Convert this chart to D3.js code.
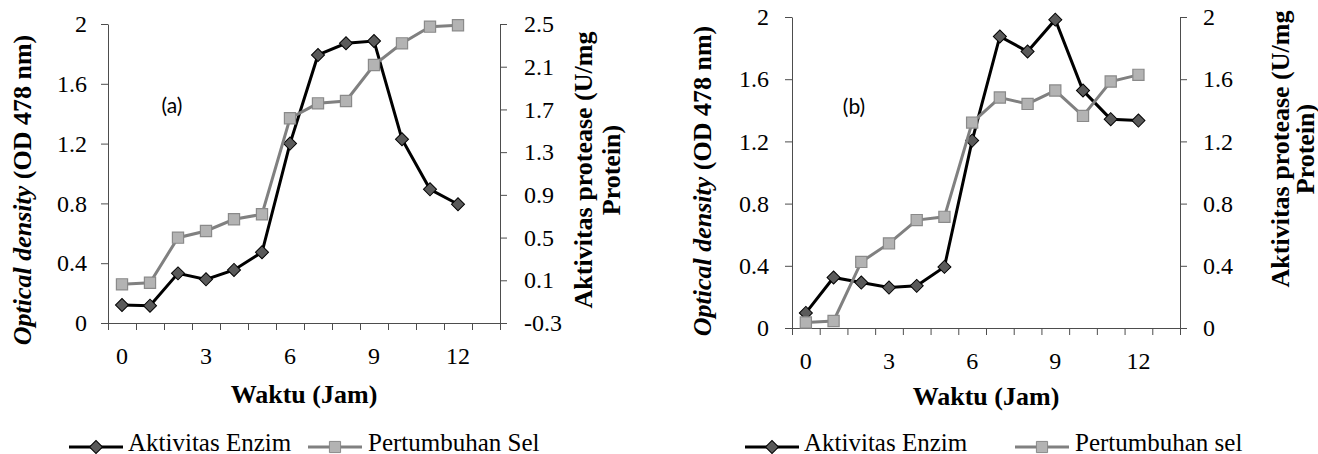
<!DOCTYPE html>
<html lang="id">
<head>
  <meta charset="UTF-8" />
  <script src="https://d3js.org/d3.v7.min.js"></script>
  <title>Aktivitas Enzim dan Pertumbuhan Sel</title>
  <style>
    body { margin: 0; background: #fff; }
  </style>
</head>
<body>
<script type="text/javascript">
	// kategori sumbu x (14 slot, slot terakhir kosong)
	var slots = [0, 1, 2, 3, 4, 5, 6, 7, 8, 9, 10, 11, 12, 13];
	var hours = [0, 1, 2, 3, 4, 5, 6, 7, 8, 9, 10, 11, 12];
	var xLabels = [0, 3, 6, 9, 12];

	// panel (a)
	var enzimA = [0.12, 0.116, 0.332, 0.292, 0.355, 0.473, 1.2, 1.793, 1.871, 1.886, 1.229, 0.894, 0.794];
	var selA = [0.062, 0.077, 0.499, 0.562, 0.671, 0.718, 1.617, 1.757, 1.779, 2.116, 2.319, 2.475, 2.488];
	var leftTicksA = [0, 0.4, 0.8, 1.2, 1.6, 2];
	var rightTicksA = [-0.3, 0.1, 0.5, 0.9, 1.3, 1.7, 2.1, 2.5];

	// panel (b)
	var enzimB = [0.097, 0.325, 0.292, 0.26, 0.271, 0.393, 1.205, 1.875, 1.778, 1.983, 1.527, 1.343, 1.334];
	var selB = [0.035, 0.045, 0.425, 0.544, 0.694, 0.715, 1.321, 1.482, 1.441, 1.527, 1.364, 1.585, 1.628];
	var leftTicksB = [0, 0.4, 0.8, 1.2, 1.6, 2];
	var rightTicksB = [0, 0.4, 0.8, 1.2, 1.6, 2];

	var width = 1318; var height = 454;
	var serif = "Liberation Serif";
	var svg = d3.select("body").append("svg").attr("width", width).attr("height", height)
		.attr("font-family", serif);
	svg.append("rect").attr("width", width).attr("height", height).attr("fill", "#fff");

	var fmt = function(d){ return String(+d.toFixed(1)); };
	var axisColor = "#4d4d4d";

	function panel(p)
	{
		var g = svg.append("g");
		var xBand = d3.scaleBand().domain(slots).range([p.x0, p.x1]);
		var xEdge = d3.scaleLinear().domain([0, slots.length]).range([p.x0, p.x1]);
		var yL = d3.scaleLinear().domain([p.leftTicks[0], p.leftTicks[p.leftTicks.length - 1]]).range([p.y1, p.y0]);
		var yR = d3.scaleLinear().domain([p.rightTicks[0], p.rightTicks[p.rightTicks.length - 1]]).range([p.y1, p.y0]);

		// sumbu x: garis + tick di batas kategori
		var ax = g.append("g").attr("transform", "translate(0," + p.y1 + ")")
			.call(d3.axisBottom(xEdge).tickValues(d3.range(slots.length + 1)).tickFormat("").tickSize(7).tickSizeOuter(0));
		ax.selectAll("line, path").attr("stroke", axisColor);
		var axl = g.append("g").attr("transform", "translate(0," + p.y1 + ")")
			.call(d3.axisBottom(xBand).tickValues(xLabels).tickSize(0).tickPadding(24));
		axl.select(".domain").remove();

		var al = g.append("g").attr("transform", "translate(" + p.x0 + ",0)")
			.call(d3.axisLeft(yL).tickValues(p.leftTicks).tickFormat(fmt).tickSize(7).tickSizeOuter(0).tickPadding(p.padL));
		al.selectAll("line, path").attr("stroke", axisColor);

		var ar = g.append("g").attr("transform", "translate(" + p.x1 + ",0)")
			.call(d3.axisRight(yR).tickValues(p.rightTicks).tickFormat(fmt).tickSize(7).tickSizeOuter(0).tickPadding(p.padR));
		ar.selectAll("line, path").attr("stroke", axisColor);

		[ax, axl, al, ar].forEach(function(a){
			a.attr("font-family", serif).attr("font-size", 24);
			a.selectAll("text").attr("font-family", serif).attr("font-size", 24).attr("fill", "#000");
		});

		var cx = function(d, i){ return xBand(hours[i]) + xBand.bandwidth() / 2; };

		// Aktivitas Enzim (hitam, belah ketupat)
		var lineE = d3.line().x(cx).y(function(d){ return yL(d); });
		g.append("path").datum(p.enzim).attr("d", lineE).attr("fill", "none").attr("stroke", "#000").attr("stroke-width", 3);
		g.selectAll(".dia").data(p.enzim).enter().append("path")
			.attr("d", d3.symbol().type(d3.symbolSquare).size(85))
			.attr("transform", function(d, i){ return "translate(" + cx(d, i) + "," + yL(d) + ") rotate(45)"; })
			.attr("fill", "#5a5a5a").attr("stroke", "#000").attr("stroke-width", 1);

		// Pertumbuhan Sel (abu-abu, kotak)
		var lineS = d3.line().x(cx).y(function(d){ return yR(d); });
		g.append("path").datum(p.sel).attr("d", lineS).attr("fill", "none").attr("stroke", "#808080").attr("stroke-width", 3);
		g.selectAll(".sq").data(p.sel).enter().append("path")
			.attr("d", d3.symbol().type(d3.symbolSquare).size(125))
			.attr("transform", function(d, i){ return "translate(" + cx(d, i) + "," + yR(d) + ")"; })
			.attr("fill", "#b3b3b3").attr("stroke", "#8a8a8a").attr("stroke-width", 1.2);

		// label panel
		g.append("text").attr("x", p.tag[0]).attr("y", p.tag[1]).attr("text-anchor", "middle")
			.attr("font-family", "Lato").attr("font-size", 21).text(p.tagText);

		// judul sumbu y kiri
		var tl = g.append("text").attr("transform", "translate(" + p.ltitle[0] + "," + p.ltitle[1] + ") rotate(-90)")
			.attr("text-anchor", "middle").attr("dy", "0.35em").attr("font-family", serif)
			.attr("font-size", 26).attr("font-weight", "bold");
		tl.append("tspan").attr("font-style", "italic").text("Optical density");
		tl.append("tspan").text(" (OD 478 nm)");

		// judul sumbu y kanan (dua baris)
		var tr = g.append("g").attr("font-family", serif).attr("font-size", 26).attr("font-weight", "bold");
		tr.append("text").attr("transform", "translate(" + p.rtitle[0] + "," + p.rtitle[2] + ") rotate(-90)")
			.attr("text-anchor", "middle").attr("dy", "0.35em").text("Aktivitas protease (U/mg");
		tr.append("text").attr("transform", "translate(" + p.rtitle[1] + "," + p.rtitle[2] + ") rotate(-90)")
			.attr("text-anchor", "middle").attr("dy", "0.35em").text("Protein)");

		// judul sumbu x
		g.append("text").attr("x", (p.x0 + p.x1) / 2).attr("y", p.xtitleY).attr("text-anchor", "middle")
			.attr("font-family", serif).attr("font-size", 26).attr("font-weight", "bold").text("Waktu (Jam)");

		// legenda
		var ly = 447;
		var le = p.legend;
		g.append("line").attr("x1", le[0]).attr("x2", le[0] + 54).attr("y1", ly).attr("y2", ly).attr("stroke", "#000").attr("stroke-width", 3);
		g.append("path").attr("d", d3.symbol().type(d3.symbolSquare).size(85))
			.attr("transform", "translate(" + (le[0] + 27) + "," + ly + ") rotate(45)")
			.attr("fill", "#5a5a5a").attr("stroke", "#000");
		g.append("text").attr("x", le[0] + 59).attr("y", 451).attr("font-family", serif).attr("font-size", 25).text("Aktivitas Enzim");
		g.append("line").attr("x1", le[1]).attr("x2", le[1] + 54).attr("y1", ly).attr("y2", ly).attr("stroke", "#808080").attr("stroke-width", 3);
		g.append("path").attr("d", d3.symbol().type(d3.symbolSquare).size(125))
			.attr("transform", "translate(" + (le[1] + 27) + "," + ly + ")")
			.attr("fill", "#b3b3b3").attr("stroke", "#8a8a8a");
		g.append("text").attr("x", le[1] + 60).attr("y", 451).attr("font-family", serif).attr("font-size", 25).text(p.selName);
	}

	panel({x0: 108, x1: 500, y0: 24, y1: 323, enzim: enzimA, sel: selA,
		leftTicks: leftTicksA, rightTicks: rightTicksA, padL: 14, padR: 17,
		tag: [172, 113], tagText: "(a)", ltitle: [22, 190], rtitle: [583, 611, 170],
		xtitleY: 403, legend: [69, 308], selName: "Pertumbuhan Sel"});

	panel({x0: 792, x1: 1180, y0: 17, y1: 328, enzim: enzimB, sel: selB,
		leftTicks: leftTicksB, rightTicks: rightTicksB, padL: 16, padR: 16,
		tag: [854, 114], tagText: "(b)", ltitle: [702, 181], rtitle: [1280, 1305, 149],
		xtitleY: 405, legend: [745, 1015], selName: "Pertumbuhan sel"});
</script>
</body>
</html>
